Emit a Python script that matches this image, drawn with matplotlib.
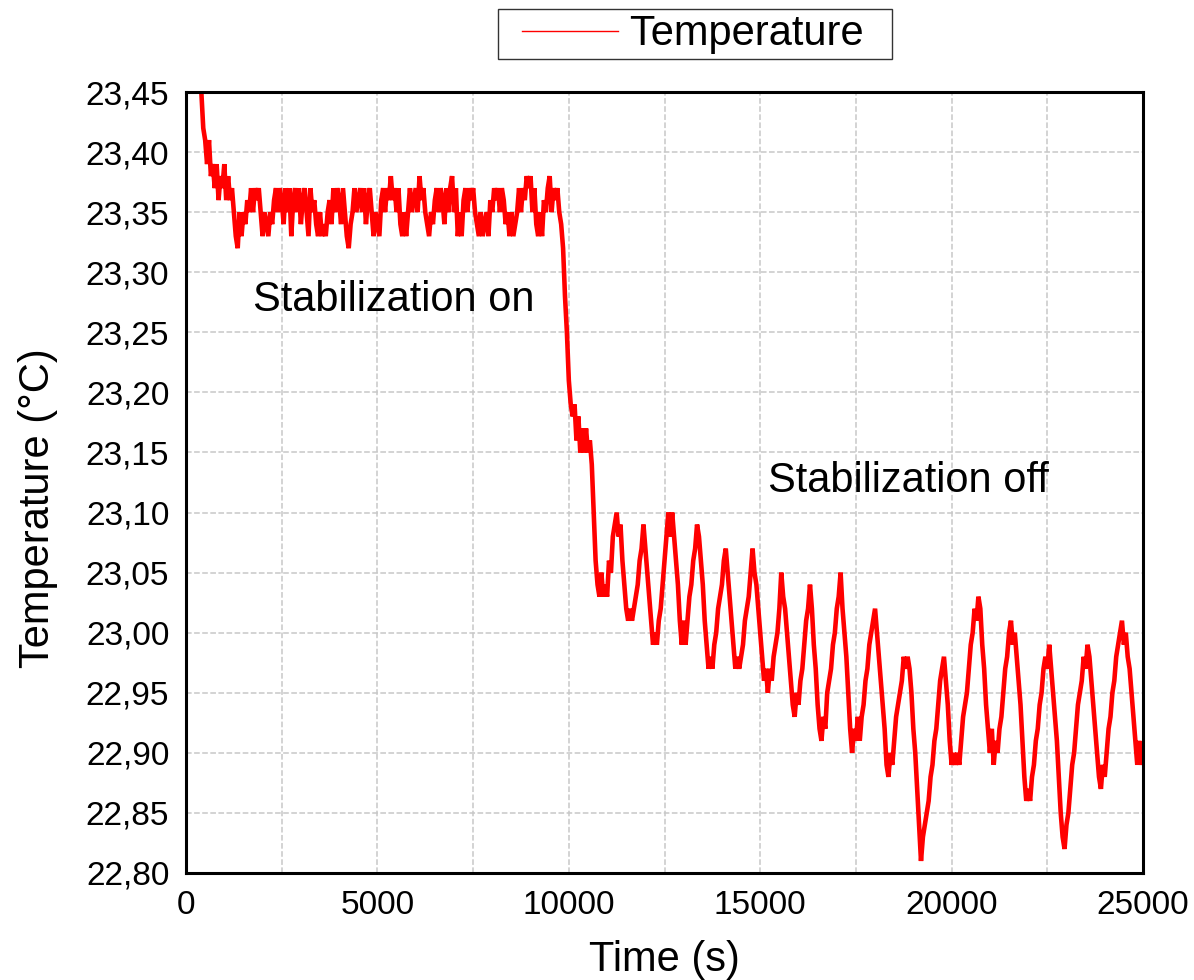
import numpy as np
import matplotlib
matplotlib.use('Agg')
import matplotlib.pyplot as plt
from matplotlib.ticker import MultipleLocator, FuncFormatter
from matplotlib.lines import Line2D
from matplotlib.legend_handler import HandlerLine2D

plt.rcParams['font.family'] = ['Liberation Sans', 'DejaVu Sans']

# sampling of the logger (s)
t_start = 400
t_step = 50

# temperature readings (degC), one row per 1000 s
temp_c = [
  23.45, 23.42, 23.41, 23.39, 23.41, 23.38, 23.39, 23.37, 23.39, 23.36, 23.38, 23.37, 23.39, 23.36, 23.38, 23.36, 23.37, 23.35, 23.33, 23.32,
  23.35, 23.33, 23.35, 23.34, 23.36, 23.35, 23.37, 23.35, 23.37, 23.36, 23.37, 23.35, 23.33, 23.35, 23.34, 23.33, 23.35, 23.34, 23.36, 23.37,
  23.35, 23.37, 23.36, 23.34, 23.37, 23.35, 23.37, 23.33, 23.36, 23.37, 23.35, 23.37, 23.34, 23.36, 23.37, 23.35, 23.33, 23.37, 23.35, 23.36,
  23.34, 23.33, 23.35, 23.33, 23.34, 23.33, 23.35, 23.36, 23.34, 23.37, 23.35, 23.37, 23.36, 23.34, 23.37, 23.35, 23.33, 23.32, 23.34, 23.35,
  23.37, 23.35, 23.36, 23.37, 23.35, 23.37, 23.34, 23.36, 23.37, 23.35, 23.33, 23.35, 23.34, 23.33, 23.36, 23.37, 23.35, 23.37, 23.36, 23.38,
  23.36, 23.37, 23.35, 23.37, 23.34, 23.33, 23.35, 23.33, 23.35, 23.37, 23.35, 23.36, 23.37, 23.35, 23.38, 23.36, 23.37, 23.35, 23.34, 23.33,
  23.35, 23.34, 23.36, 23.37, 23.35, 23.37, 23.36, 23.34, 23.37, 23.35, 23.37, 23.38, 23.35, 23.37, 23.33, 23.35, 23.33, 23.36, 23.37, 23.35,
  23.37, 23.36, 23.37, 23.35, 23.34, 23.33, 23.35, 23.33, 23.34, 23.35, 23.33, 23.36, 23.35, 23.37, 23.36, 23.37, 23.35, 23.37, 23.36, 23.34,
  23.35, 23.33, 23.35, 23.33, 23.34, 23.35, 23.37, 23.35, 23.37, 23.36, 23.38, 23.37, 23.38, 23.35, 23.37, 23.34, 23.33, 23.35, 23.33, 23.36,
  23.35, 23.37, 23.38, 23.35, 23.37, 23.36, 23.37, 23.35, 23.34, 23.32, 23.28, 23.25, 23.21, 23.19, 23.18, 23.19, 23.16, 23.18, 23.15, 23.17,
  23.15, 23.17, 23.15, 23.16, 23.14, 23.10, 23.06, 23.04, 23.03, 23.05, 23.03, 23.04, 23.03, 23.06, 23.05, 23.08, 23.09, 23.10, 23.08, 23.09,
  23.06, 23.04, 23.02, 23.01, 23.02, 23.01, 23.02, 23.03, 23.04, 23.06, 23.07, 23.09, 23.07, 23.05, 23.03, 23.01, 22.99, 23.00, 22.99, 23.01,
  23.02, 23.04, 23.06, 23.08, 23.10, 23.08, 23.10, 23.08, 23.06, 23.04, 23.01, 22.99, 23.01, 22.99, 23.01, 23.03, 23.04, 23.06, 23.07, 23.09,
  23.08, 23.06, 23.04, 23.01, 22.99, 22.97, 22.98, 22.97, 22.99, 23.00, 23.02, 23.03, 23.04, 23.06, 23.07, 23.05, 23.03, 23.01, 22.99, 22.97,
  22.98, 22.97, 22.98, 22.99, 23.01, 23.02, 23.03, 23.05, 23.07, 23.05, 23.04, 23.02, 23.00, 22.98, 22.96, 22.97, 22.95, 22.97, 22.96, 22.98,
  22.99, 23.00, 23.02, 23.05, 23.03, 23.02, 23.00, 22.98, 22.96, 22.94, 22.93, 22.95, 22.94, 22.96, 22.97, 22.99, 23.01, 23.02, 23.04, 23.02,
  22.99, 22.97, 22.94, 22.92, 22.91, 22.93, 22.92, 22.95, 22.96, 22.97, 22.99, 23.00, 23.02, 23.03, 23.05, 23.02, 23.00, 22.98, 22.95, 22.92,
  22.90, 22.92, 22.91, 22.93, 22.91, 22.93, 22.94, 22.96, 22.97, 22.99, 23.00, 23.01, 23.02, 23.00, 22.98, 22.96, 22.94, 22.92, 22.89, 22.88,
  22.90, 22.89, 22.91, 22.93, 22.94, 22.95, 22.96, 22.98, 22.97, 22.98, 22.97, 22.95, 22.92, 22.90, 22.87, 22.84, 22.81, 22.83, 22.84, 22.85,
  22.86, 22.88, 22.89, 22.91, 22.92, 22.94, 22.96, 22.97, 22.98, 22.96, 22.94, 22.91, 22.89, 22.90, 22.89, 22.90, 22.89, 22.91, 22.93, 22.94,
  22.95, 22.97, 22.99, 23.00, 23.02, 23.01, 23.03, 23.02, 22.99, 22.97, 22.94, 22.92, 22.90, 22.92, 22.89, 22.91, 22.90, 22.92, 22.93, 22.95,
  22.97, 22.98, 23.00, 23.01, 22.99, 23.00, 22.98, 22.96, 22.94, 22.91, 22.88, 22.86, 22.87, 22.86, 22.88, 22.89, 22.91, 22.92, 22.94, 22.95,
  22.97, 22.98, 22.97, 22.99, 22.97, 22.95, 22.93, 22.91, 22.88, 22.85, 22.83, 22.82, 22.84, 22.85, 22.87, 22.89, 22.90, 22.92, 22.94, 22.95,
  22.96, 22.98, 22.97, 22.99, 22.98, 22.96, 22.94, 22.92, 22.90, 22.88, 22.87, 22.89, 22.88, 22.90, 22.92, 22.93, 22.95, 22.96, 22.98, 22.99,
  23.00, 23.01, 22.99, 23.00, 22.98, 22.97, 22.95, 22.93, 22.91, 22.89, 22.91, 22.89, 22.90,
]
time_s = t_start + t_step*np.arange(len(temp_c))

fig = plt.figure(figsize=(11.94, 9.8), dpi=100)
ax = fig.add_axes([0.1558, 0.1092, 0.8015, 0.7969])

ax.plot(time_s, temp_c, color='#ff0000', lw=3.3, solid_joinstyle='miter')

ax.set_xlim(0, 25000)
ax.set_ylim(22.80, 23.45)
ax.xaxis.set_major_locator(MultipleLocator(5000))
ax.xaxis.set_minor_locator(MultipleLocator(2500))
ax.yaxis.set_major_locator(MultipleLocator(0.05))
ax.yaxis.set_major_formatter(FuncFormatter(lambda v, p: f'{v:.2f}'.replace('.', ',')))
ax.tick_params(which='both', length=0, labelsize=24)
ax.tick_params(axis='x', pad=12)
ax.tick_params(axis='y', pad=12)
ax.grid(True, which='both', axis='x', color='#c8c8c8', linestyle='--', lw=1.1)
ax.grid(True, which='major', axis='y', color='#c8c8c8', linestyle='--', lw=1.1)
ax.set_axisbelow(True)
for s in ax.spines.values():
  s.set_linewidth(2.2)

ax.set_xlabel('Time (s)', fontsize=30, labelpad=14)
ax.set_ylabel('Temperature (°C)', fontsize=30)
ax.yaxis.set_label_coords(-0.134, 0.467)

ax.text(1750, 23.277, 'Stabilization on', fontsize=30, va='center', ha='left')
ax.text(15204, 23.126, 'Stabilization off', fontsize=30, va='center', ha='left')

handle = Line2D([], [], color='#ff0000', lw=1.0)
leg = ax.legend([handle], ['Temperature  '], loc='center', bbox_to_anchor=(0.532, 1.074),
                fontsize=30, frameon=True, fancybox=False, edgecolor='black',
                handlelength=2.75, handletextpad=0.3, borderpad=0.12, borderaxespad=0,
                handler_map={handle: HandlerLine2D(xpad=0.46)})
leg.get_frame().set_linewidth(1.0)

plt.savefig('out.png', dpi=100)
plt.close()
